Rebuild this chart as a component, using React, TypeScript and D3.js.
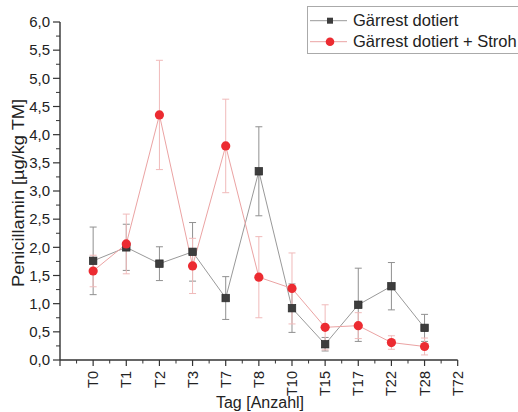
import React from "react";
import * as d3 from "d3";

const categories = ["T0", "T1", "T2", "T3", "T7", "T8", "T10", "T15", "T17", "T22", "T28", "T72"];
const seriesNames = ["Gärrest dotiert", "Gärrest dotiert + Stroh"];
const blackValues = [1.76, 2.0, 1.71, 1.92, 1.1, 3.35, 0.92, 0.28, 0.98, 1.31, 0.57];
const blackErrors = [0.6, 0.41, 0.3, 0.52, 0.38, 0.79, 0.43, 0.12, 0.65, 0.42, 0.24];
const redValues = [1.58, 2.06, 4.35, 1.67, 3.8, 1.47, 1.27, 0.58, 0.61, 0.31, 0.24];
const redErrors = [0.28, 0.53, 0.97, 0.49, 0.83, 0.72, 0.63, 0.4, 0.23, 0.12, 0.15];
const yTicks = [0, 0.5, 1, 1.5, 2, 2.5, 3, 3.5, 4, 4.5, 5, 5.5, 6];

const FONT = "'Liberation Sans', Arial, sans-serif";

export default function App() {
  const W = 518, H = 412;
  const x = d3.scaleLinear().domain([0, 12]).range([60, 457.7]);
  const y = d3.scaleLinear().domain([0, 6]).range([360, 22]);
  const fmt = (v: number) => d3.format(".1f")(v).replace(".", ",");
  const line = d3
    .line<number>()
    .x((_, i) => x(i + 1))
    .y((d) => y(d));

  const yMinor = d3.range(0, 6.001, 0.25).filter((v) => Math.abs(v * 2 - Math.round(v * 2)) > 1e-6);
  const xMinor = d3.range(0.5, 12, 1);
  const xMajor = d3.range(0, 13, 1);
  const cap = 3.5;

  const series = [
    { vals: blackValues, errs: blackErrors, lineColor: "#999999", errColor: "#909090", kind: "sq", color: "#3d3d3d" },
    { vals: redValues, errs: redErrors, lineColor: "#eba3a3", errColor: "#f0baba", kind: "ci", color: "#ec2b31" },
  ];

  return (
    <svg width={W} height={H} style={{ position: "absolute", left: 0, top: 0, background: "#fff" }} fontFamily={FONT}>
      {series.map((s, si) => (
        <g key={"l" + si}>
          <path d={line(s.vals) || ""} fill="none" stroke={s.lineColor} strokeWidth={1} />
          {s.vals.map((v, i) => {
            const cx = x(i + 1);
            const y1 = y(v + s.errs[i]);
            const y2 = y(v - s.errs[i]);
            return (
              <g key={i} stroke={s.errColor} strokeWidth={1}>
                <line x1={cx} x2={cx} y1={y1} y2={y2} />
                <line x1={cx - cap} x2={cx + cap} y1={y1} y2={y1} />
                <line x1={cx - cap} x2={cx + cap} y1={y2} y2={y2} />
              </g>
            );
          })}
        </g>
      ))}
      {series.map((s, si) => (
        <g key={"m" + si}>
          {s.vals.map((v, i) =>
            s.kind === "sq" ? (
              <rect key={i} x={x(i + 1) - 3.75} y={y(v) - 3.75} width={7.5} height={7.5} fill={s.color} stroke="#2a2a2a" strokeWidth={0.7} />
            ) : (
              <circle key={i} cx={x(i + 1)} cy={y(v)} r={4.6} fill={s.color} />
            )
          )}
        </g>
      ))}

      <line x1={60} x2={60} y1={y(6)} y2={y(0)} stroke="#333" strokeWidth={1.4} />
      {yTicks.map((t) => (
        <g key={"yt" + t}>
          <line x1={53} x2={60} y1={y(t)} y2={y(t)} stroke="#333" strokeWidth={1.2} />
          <text x={50} y={y(t)} dy="0.35em" textAnchor="end" fontSize={15} fill="#222">
            {fmt(t)}
          </text>
        </g>
      ))}
      {yMinor.map((t) => (
        <line key={"ym" + t} x1={56} x2={60} y1={y(t)} y2={y(t)} stroke="#333" strokeWidth={1} />
      ))}

      <line x1={x(0)} x2={x(12)} y1={360} y2={360} stroke="#333" strokeWidth={1.4} />
      {xMajor.map((t) => (
        <line key={"xt" + t} x1={x(t)} x2={x(t)} y1={360} y2={366} stroke="#333" strokeWidth={1.2} />
      ))}
      {xMinor.map((t) => (
        <line key={"xm" + t} x1={x(t)} x2={x(t)} y1={360} y2={363.5} stroke="#333" strokeWidth={1} />
      ))}
      {categories.map((c, i) => (
        <text
          key={c}
          transform={`translate(${x(i + 1)},371) rotate(-90)`}
          dy="0.35em"
          textAnchor="end"
          fontSize={14.5}
          fill="#222"
        >
          {c}
        </text>
      ))}

      <text x={260} y={408} textAnchor="middle" fontSize={16} fill="#222">
        Tag [Anzahl]
      </text>
      <text
        transform="translate(24,193) rotate(-90)"
        textAnchor="middle"
        fontSize={17}
        fill="#222"
        textLength={188}
        lengthAdjust="spacingAndGlyphs"
      >
        Penicillamin [µg/kg TM]
      </text>

      <rect x={307.5} y={6.5} width={230} height={47} fill="#fff" stroke="#aaa" strokeWidth={1} />
      {series.map((s, si) => {
        const ly = 20.7 + si * 21;
        return (
          <g key={"lg" + si}>
            <line x1={310} x2={347} y1={ly} y2={ly} stroke={s.lineColor} strokeWidth={1} />
            {s.kind === "sq" ? (
              <rect x={327} y={ly - 3} width={6} height={6} fill={s.color} />
            ) : (
              <circle cx={330} cy={ly} r={4.3} fill={s.color} />
            )}
            <text x={353} y={ly} dy="0.35em" fontSize={16.5} fill="#222">
              {seriesNames[si]}
            </text>
          </g>
        );
      })}
    </svg>
  );
}
